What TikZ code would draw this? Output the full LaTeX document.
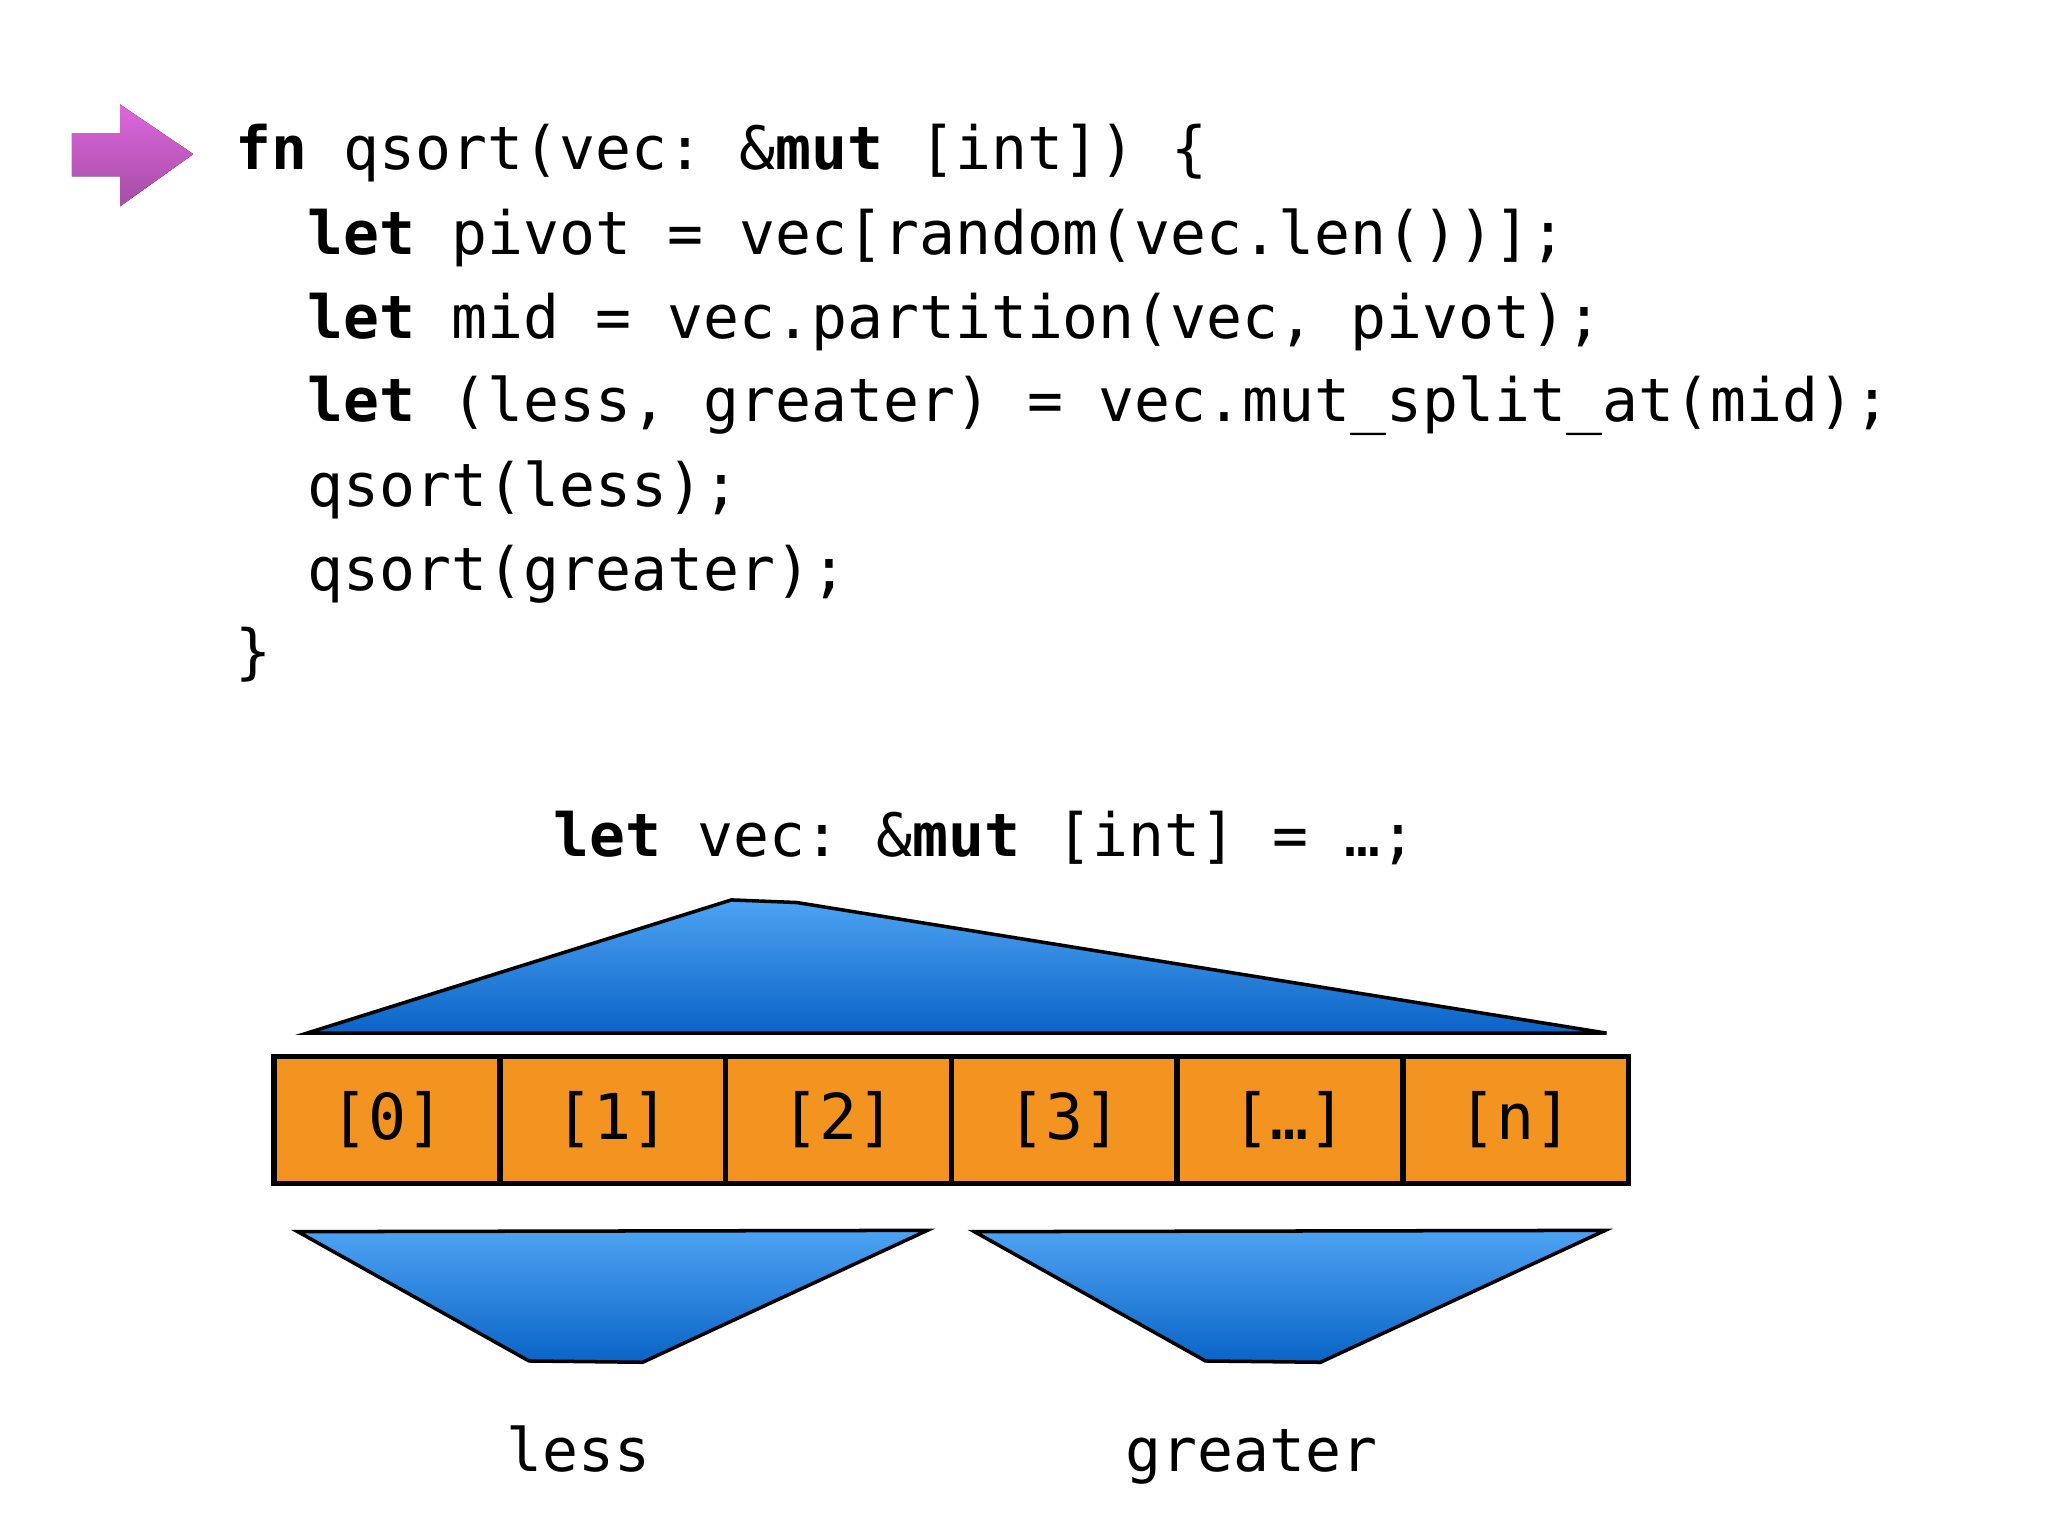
\documentclass[tikz,border=0pt]{standalone}
\usepackage{fontspec}
\setmonofont{DejaVu Sans Mono}
\begin{document}
\begin{tikzpicture}[x=0.01306cm, y=-0.01306cm,
  code/.style = {anchor=base west, inner sep=0pt, font=\ttfamily\fontsize{17}{20}\selectfont},
  cell/.style = {draw, line width=1.6pt, fill=cellorange, minimum width=172.8*0.01306cm,
                 minimum height=97*0.01306cm, inner sep=0pt, font=\ttfamily\fontsize{18}{20}\selectfont},
  wedge/.style = {draw, line width=1pt, top color=wedgetop, bottom color=wedgebot}]
\definecolor{cellorange}{HTML}{F39320}
\definecolor{wedgetop}{HTML}{4DA3F2}
\definecolor{wedgebot}{HTML}{0A64C6}
\useasboundingbox (0,0) rectangle (1568,1176);

% Pointer arrow
\fill[top color=violet!45!magenta!60, bottom color=violet!70!white]
  (55,102) -- (92,102) -- (92,80) -- (148,118) -- (92,158) -- (92,135) -- (55,135) -- cycle;

% Code lines
\node[code] (l1) at (180,130) {\textbf{fn} qsort(vec: \&\textbf{mut} [int]) \{};
\node[code] (l2) at (235,195) {\textbf{let} pivot = vec[random(vec.len())];};
\node[code] (l3) at (235,259) {\textbf{let} mid = vec.partition(vec, pivot);};
\node[code] (l4) at (235,323) {\textbf{let} (less, greater) = vec.mut\_split\_at(mid);};
\node[code] (l5) at (235,388) {qsort(less);};
\node[code] (l6) at (235,452) {qsort(greater);};
\node[code] (l7) at (180,515) {\}};

% Whole slice
\node[code] (whole) at (423,656) {\textbf{let} vec: \&\textbf{mut} [int] = …;};
\draw[wedge] (235,791) -- (560,689) -- (610,691) -- (1230,791) -- cycle;

% Cells
\foreach \t [count=\i from 0] in {[0],[1],[2],[3],[…],[n]}
  \node[cell] (c\i) at (296.4+172.8*\i,857.5) {\t};

% Halves
\draw[wedge] (228,943) -- (710,942) -- (492,1043) -- (405,1042) -- cycle;
\draw[wedge] (746,943) -- (1229,942) -- (1011,1043) -- (923,1042) -- cycle;
\node[code, anchor=base] (less) at (443,1127) {less};
\node[code, anchor=base] (greater) at (958,1127) {greater};
\end{tikzpicture}
\end{document}
